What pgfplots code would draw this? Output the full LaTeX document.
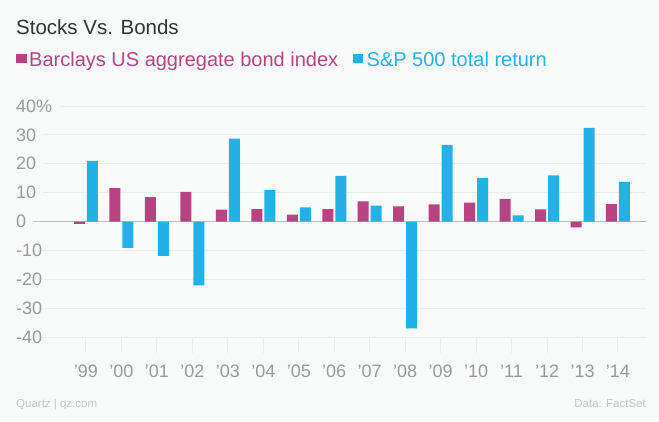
\documentclass[border=0pt]{standalone}
\usepackage{fontspec}
\setmainfont{Liberation Sans}
\usepackage{pgfplots}
\pgfplotsset{compat=1.18}
\definecolor{bgc}{HTML}{F9FAFA}
\definecolor{gridc}{HTML}{ECEEEE}
\definecolor{zeroc}{HTML}{BDBDBD}
\definecolor{tickc}{HTML}{9A9A9A}
\definecolor{magc}{HTML}{B94382}
\definecolor{cyanc}{HTML}{23B2E8}
\definecolor{titlec}{HTML}{333333}
\definecolor{footc}{HTML}{C4C6C6}
\begin{document}
\begin{tikzpicture}[x=1pt,y=1pt]
\fill[bgc] (0,0) rectangle (659,421);
\node[anchor=base west, inner sep=0, text=titlec, font=\fontsize{20.5}{24}\selectfont] at (16,386) {Stocks Vs. Bonds};
\fill[magc] (16,358) rectangle (27,367);
\node[anchor=base west, inner sep=0, text=magc, font=\fontsize{20}{24}\selectfont] (L1) at (29,354) {Barclays US aggregate bond index};
\fill[cyanc] ([xshift=15pt,yshift=4pt]L1.base east) rectangle ++(10,9);
\node[anchor=base west, inner sep=0, text=cyanc, font=\fontsize{20}{24}\selectfont] at ([xshift=28pt]L1.base east) {S\&P 500 total return};
\node[anchor=base west, inner sep=0, text=footc, font=\fontsize{11.5}{13}\selectfont] at (16,14) {Quartz | qz.com};
\node[anchor=base east, inner sep=0, text=footc, font=\fontsize{11.5}{13}\selectfont] at (646,14) {Data: FactSet};
\begin{axis}[
  at={(43pt,84pt)}, anchor=south west, scale only axis,
  width=603pt, height=231pt,
  xmin=-1.212, xmax=15.79, ymin=-40, ymax=40,
  clip=false, axis line style={draw=none},
  ybar=2pt, bar width=11pt,
  xtick={0,...,15},
  xticklabels={’99,’00,’01,’02,’03,’04,’05,’06,’07,’08,’09,’10,’11,’12,’13,’14},
  ytick={-40,-30,-20,-10,0,10,20,30,40},
  yticklabels={-40,-30,-20,-10,0,10,20,30,40\%},
  tick align=outside, major tick length=16pt,
  xtick pos=left, ytick pos=left,
  xtick style={draw=gridc, line width=1pt},
  ytick style={draw=none},
  tick label style={font=\fontsize{18}{20}\selectfont, text=tickc},
  yticklabel style={anchor=west, inner sep=0pt, xshift=-11pt},
  xticklabel style={anchor=base, inner sep=0pt, yshift=-24pt},
]
\pgfplotsinvokeforeach{-40,-30,-20,-10,10,20,30}{\draw[gridc, line width=1pt] (axis cs:-1.212,#1) -- (axis cs:15.79,#1);}
\draw[gridc, line width=1pt] (axis cs:-0.733,40) -- (axis cs:15.79,40);
\draw[zeroc, line width=1.2pt] (axis cs:-1.494,0) -- (axis cs:15.79,0);
\addplot[fill=magc, draw=none] coordinates {(0,-0.8)(1,11.6)(2,8.4)(3,10.3)(4,4.1)(5,4.3)(6,2.4)(7,4.3)(8,7.0)(9,5.2)(10,5.9)(11,6.5)(12,7.8)(13,4.2)(14,-2.0)(15,6.0)};
\addplot[fill=cyanc, draw=none] coordinates {(0,21.0)(1,-9.1)(2,-11.9)(3,-22.1)(4,28.7)(5,10.9)(6,4.9)(7,15.8)(8,5.5)(9,-37.0)(10,26.5)(11,15.1)(12,2.1)(13,16.0)(14,32.4)(15,13.7)};
\end{axis}
\pgfresetboundingbox
\useasboundingbox (0,0) rectangle (659,421);
\end{tikzpicture}
\end{document}
